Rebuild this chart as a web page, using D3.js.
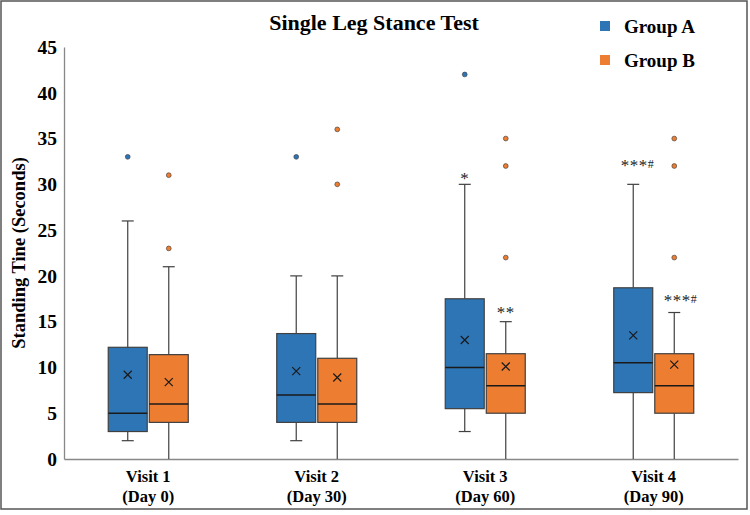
<!DOCTYPE html>
<html>
<head>
<meta charset="utf-8">
<script src="https://cdn.jsdelivr.net/npm/d3@7"></script>
<style>
  body { margin: 0; background: #fff; }
  svg text { font-family: "Liberation Serif", "Times New Roman", serif; }
</style>
</head>
<body>
<div id="chart"></div>
<script>
var visits = ['Visit 1', 'Visit 2', 'Visit 3', 'Visit 4'];
var days = ['(Day 0)', '(Day 30)', '(Day 60)', '(Day 90)'];
var groups = ['Group A', 'Group B'];
var yTicks = [0, 5, 10, 15, 20, 25, 30, 35, 40, 45];

// five-number summary + mean per visit
var groupA = [
    {lo: 2, q1: 3, med: 5, q3: 12.2, hi: 26, mean: 9.2},
    {lo: 2, q1: 4, med: 7, q3: 13.7, hi: 20, mean: 9.6},
    {lo: 3, q1: 5.5, med: 10, q3: 17.5, hi: 30, mean: 13},
    {lo: 0, q1: 7.25, med: 10.5, q3: 18.7, hi: 30, mean: 13.5}
];
var groupB = [
    {lo: 0, q1: 4, med: 6, q3: 11.4, hi: 21, mean: 8.4},
    {lo: 0, q1: 4, med: 6, q3: 11, hi: 20, mean: 8.9},
    {lo: 0, q1: 5, med: 8, q3: 11.5, hi: 15, mean: 10.1},
    {lo: 0, q1: 5, med: 8, q3: 11.5, hi: 16, mean: 10.3}
];
var outliersA = [[33], [33], [42], []];
var outliersB = [[31, 23], [36, 30], [35, 32, 22], [35, 32, 22]];
// significance marks and the level (seconds) they sit at
var marksA = ['', '', '*', '***#'];
var marksB = ['', '', '**', '***#'];
var marksAy = [0, 0, 31, 32.4];
var marksBy = [0, 0, 16.4, 17.7];

var colors = ['#2E75B6', '#ED7D31'];
var strokeCol = '#404040';

var width = 750,
    height = 515,
    margin = {top: 47, right: 12, bottom: 56, left: 64};

var svg = d3.select('#chart')
    .append('svg')
    .attr('width', width)
    .attr('height', height);

// outer frame
svg.append('rect')
    .attr('x', 1).attr('y', 1)
    .attr('width', 746).attr('height', 508)
    .attr('fill', '#fff')
    .attr('stroke', '#555')
    .attr('stroke-width', 1.5);

var x = d3.scaleBand()
    .domain(visits)
    .range([margin.left, width - margin.right]);

var xg = d3.scaleBand()
    .domain(groups)
    .range([0, 80])
    .paddingInner(0.05);

var y = d3.scaleLinear()
    .domain([0, 45])
    .range([height - margin.bottom, margin.top]);

// axes
var yAxis = svg.append('g')
    .attr('transform', 'translate(' + margin.left + ',0)')
    .call(d3.axisLeft(y).tickValues(yTicks).tickSize(0).tickPadding(7));
yAxis.select('.domain').attr('stroke', '#888').attr('stroke-width', 1.3);
yAxis.selectAll('text')
    .attr('font-size', 19.5).attr('font-weight', 'bold').attr('fill', '#000')
    .attr('font-family', '"Liberation Serif", serif');

var xAxis = svg.append('g')
    .attr('transform', 'translate(0,' + y(0) + ')')
    .call(d3.axisBottom(x).tickSize(0).tickFormat(''));
xAxis.select('.domain').attr('stroke', '#888').attr('stroke-width', 1.3);

var labels = svg.append('g').selectAll('text')
    .data(visits)
    .enter()
    .append('text')
    .attr('x', function(d) { return x(d) + x.bandwidth() / 2; })
    .attr('y', y(0) + 23)
    .attr('text-anchor', 'middle')
    .attr('font-size', 16.5)
    .attr('font-weight', 'bold');
labels.append('tspan').text(function(d) { return d; });
labels.append('tspan')
    .attr('x', function(d) { return x(d) + x.bandwidth() / 2; })
    .attr('dy', 20)
    .text(function(d, i) { return days[i]; });

// boxes
function drawGroup(stats, outl, marks, marksY, gi) {
    var g = svg.append('g');
    var bw = xg.bandwidth();
    stats.forEach(function(s, i) {
        var x0 = x(visits[i]) + x.bandwidth() / 2 - 40 + xg(groups[gi]);
        var cx = x0 + bw / 2;
        // whiskers
        g.append('line')
            .attr('x1', cx).attr('x2', cx)
            .attr('y1', y(s.hi)).attr('y2', y(s.q3))
            .attr('stroke', strokeCol).attr('stroke-width', 1.2);
        g.append('line')
            .attr('x1', cx).attr('x2', cx)
            .attr('y1', y(s.q1)).attr('y2', y(s.lo))
            .attr('stroke', strokeCol).attr('stroke-width', 1.2);
        [s.hi, s.lo].forEach(function(v) {
            if (v > 0) {
                g.append('line')
                    .attr('x1', cx - 6).attr('x2', cx + 6)
                    .attr('y1', y(v)).attr('y2', y(v))
                    .attr('stroke', strokeCol).attr('stroke-width', 1.2);
            }
        });
        g.append('rect')
            .attr('x', x0).attr('y', y(s.q3))
            .attr('width', bw).attr('height', y(s.q1) - y(s.q3))
            .attr('fill', colors[gi])
            .attr('stroke', strokeCol).attr('stroke-width', 1.2);
        g.append('line')
            .attr('x1', x0).attr('x2', x0 + bw)
            .attr('y1', y(s.med)).attr('y2', y(s.med))
            .attr('stroke', '#1a1a1a').attr('stroke-width', 1.5);
        // mean marker
        var my = y(s.mean), k = 4;
        g.append('path')
            .attr('d', 'M' + (cx - k) + ',' + (my - k) + 'L' + (cx + k) + ',' + (my + k) +
                       'M' + (cx - k) + ',' + (my + k) + 'L' + (cx + k) + ',' + (my - k))
            .attr('stroke', '#1a1a1a').attr('stroke-width', 1.2);
        outl[i].forEach(function(v) {
            g.append('circle')
                .attr('cx', cx).attr('cy', y(v)).attr('r', 2.4)
                .attr('fill', colors[gi])
                .attr('stroke', '#333').attr('stroke-width', 0.6);
        });
        if (marks[i]) {
            var hash = marks[i].indexOf('#') >= 0;
            var t = g.append('text')
                .attr('x', cx + (hash ? 4 + gi * 2 : 0))
                .attr('y', y(marksY[i]) + 9)
                .attr('text-anchor', 'middle')
                .attr('fill', '#222')
                .attr('font-family', '"DejaVu Sans", sans-serif');
            t.append('tspan').attr('font-size', 17).attr('letter-spacing', 0.5)
                .text(marks[i].replace('#', ''));
            if (hash) {
                t.append('tspan').attr('font-size', 12).attr('dy', -3).text('#');
            }
        }
    });
}
drawGroup(groupA, outliersA, marksA, marksAy, 0);
drawGroup(groupB, outliersB, marksB, marksBy, 1);

// title
svg.append('text')
    .attr('x', 374).attr('y', 30)
    .attr('text-anchor', 'middle')
    .attr('font-size', 22)
    .attr('font-weight', 'bold')
    .text('Single Leg Stance Test');

// y label
svg.append('text')
    .attr('transform', 'translate(25,' + ((margin.top + y(0)) / 2) + ') rotate(-90)')
    .attr('text-anchor', 'middle')
    .attr('font-size', 18.5)
    .attr('font-weight', 'bold')
    .text('Standing Tine (Seconds)');

// legend
var legend = svg.append('g').selectAll('g')
    .data(groups)
    .enter()
    .append('g')
    .attr('transform', function(d, i) { return 'translate(600,' + (21 + i * 34) + ')'; });
legend.append('rect')
    .attr('width', 10).attr('height', 10)
    .attr('fill', function(d, i) { return colors[i]; });
legend.append('text')
    .attr('x', 24).attr('y', 12)
    .attr('font-size', 19)
    .attr('font-weight', 'bold')
    .text(function(d) { return d; });
</script>
</body>
</html>
